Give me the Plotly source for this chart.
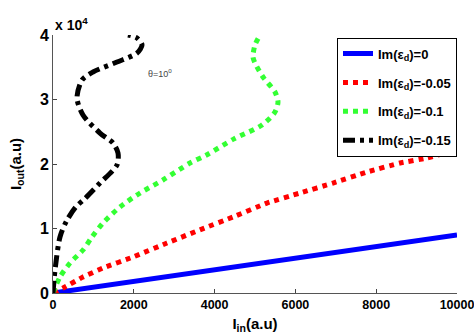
import plotly.graph_objects as go

# ---- data ----
blue_x = [0, 10000]
blue_y = [0, 9000]

red_x = [0, 248, 742, 1238, 1980, 2822, 3700, 4455, 5297, 6113, 6930, 7772, 8588, 9257, 10000]
red_y = [0, 775, 2480, 3876, 5580, 7750, 9950, 11780, 13950, 15500, 17050, 18760, 20150, 20930, 22200]

green_x = [0, 173, 421, 742, 965, 1238, 1658, 2153, 2722, 3391, 3800, 4480, 5173, 5495, 5569, 5495, 5198, 5000, 4950, 5000, 5099]
green_y = [0, 2480, 4650, 6670, 8680, 10850, 13330, 15500, 17520, 20150, 21400, 23900, 26050, 28060, 29610, 31160, 33490, 35660, 36590, 38450, 39690]

black_x = [0, 50, 173, 330, 560, 800, 1163, 1584, 1609, 1485, 1163, 742, 594, 718, 990, 1584, 2079, 2203, 2079, 1856]
black_y = [0, 3566, 8680, 11100, 13300, 14700, 17050, 19850, 21700, 23250, 24800, 27600, 30230, 33020, 34260, 35810, 37200, 38450, 39530, 40000]

names = ["Im(ε<sub>d</sub>)=0", "Im(ε<sub>d</sub>)=-0.05", "Im(ε<sub>d</sub>)=-0.1", "Im(ε<sub>d</sub>)=-0.15"]
x_ticks = [0, 2000, 4000, 6000, 8000, 10000]
x_ticktext = ["0", "2000", "4000", "6000", "8000", "10000"]
y_tickvals = [0, 10000, 20000, 30000, 40000]
y_ticktext = ["0", "1", "2", "3", "4"]

FONT = "Liberation Sans, Arial, sans-serif"

fig = go.Figure()
fig.add_trace(go.Scatter(x=blue_x, y=blue_y, mode="lines", name=names[0], legendgroup="a",
                         line=dict(color="#0000ff", width=5)))
fig.add_trace(go.Scatter(x=red_x, y=red_y, mode="lines", name=names[1], legendgroup="b",
                         line_shape="spline", line_smoothing=0.3,
                         line=dict(color="#ff0000", width=5, dash="5px,5px")))
fig.add_trace(go.Scatter(x=green_x, y=green_y, mode="lines", name=names[2], legendgroup="c",
                         line_shape="spline", line_smoothing=0.8,
                         line=dict(color="#33ff33", width=5, dash="5px,5px")))
fig.add_trace(go.Scatter(x=black_x, y=black_y, mode="lines", name=names[3], legendgroup="d",
                         line_shape="spline", line_smoothing=0.8,
                         line=dict(color="#000000", width=5, dash="12px,5px,4px,5px")))

fig.update_layout(
    width=474, height=334,
    margin=dict(l=53, r=17, t=35, b=41),
    paper_bgcolor="white", plot_bgcolor="white",
    font=dict(family=FONT, size=14, color="black", weight="bold"),
    showlegend=True,
    legend=dict(x=1.0, y=0.99, xanchor="right", yanchor="top",
                bgcolor="white", bordercolor="black", borderwidth=1,
                font=dict(family=FONT, size=13, color="black", weight="bold"),
                itemwidth=30, tracegroupgap=9),
    xaxis=dict(range=[0, 10000], tickvals=x_ticks, ticktext=x_ticktext, ticks="inside", ticklen=4,
               showline=True, linecolor="#555", linewidth=1, showgrid=False, zeroline=False,
               automargin=False, ticklabeloverflow="allow",
               tickfont=dict(family=FONT, size=12.5, weight="bold"),
               title=dict(text="I<sub>in</sub>(a.u)", standoff=7,
                          font=dict(family=FONT, size=15, weight="bold"))),
    yaxis=dict(range=[0, 40000], tickvals=y_tickvals, ticktext=y_ticktext, ticks="inside", ticklen=4,
               showline=True, linecolor="#555", linewidth=1, showgrid=False, zeroline=False,
               automargin=False, ticklabeloverflow="allow",
               tickfont=dict(family=FONT, size=16, weight="bold"),
               title=dict(text="I<sub>out</sub>(a.u)", standoff=14,
                          font=dict(family=FONT, size=15, weight="bold"))),
    annotations=[
        dict(text="x 10<sup>4</sup>", xref="paper", yref="paper", x=0.0, y=1.0,
             xanchor="left", yanchor="bottom", showarrow=False,
             font=dict(family=FONT, size=14, weight="bold")),
        dict(text="θ=10<sup>o</sup>", xref="x", yref="y", x=2650, y=34100,
             showarrow=False, font=dict(family=FONT, size=9, color="#444", weight="normal")),
    ],
)

fig.write_html("out.html", config={"displayModeBar": False},
               post_script="document.body.style.margin='0';document.body.style.overflow='hidden';")
